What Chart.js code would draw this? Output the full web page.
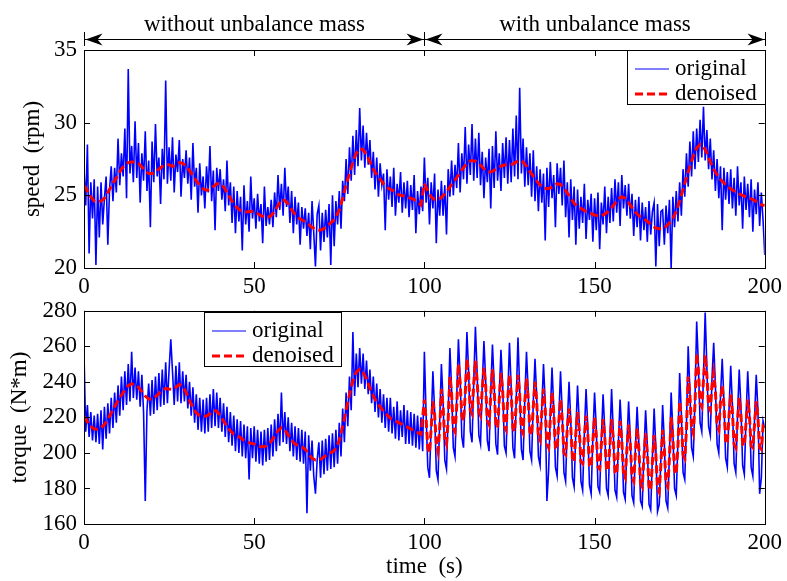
<!DOCTYPE html>
<html>
<head>
<meta charset="utf-8">
<script src="https://cdn.jsdelivr.net/npm/chart.js@4/dist/chart.umd.min.js"></script>
<style>
  html, body { margin: 0; padding: 0; background: #fff; }
  body { width: 787px; height: 581px; position: relative; overflow: hidden; }
  canvas { position: absolute; left: 0; }
  #speedChart { top: 0; }
  #torqueChart { top: 290px; }
</style>
</head>
<body>
<canvas id="speedChart" width="787" height="300"></canvas>
<canvas id="torqueChart" width="787" height="291"></canvas>
<script>
// sections marked with arrows above the upper plot
const sectionBounds = [0, 100, 200];
const sectionLabels = ['without unbalance mass', 'with unbalance mass'];

const xTicks = [0, 50, 100, 150, 200];
const speedTicks = [20, 25, 30, 35];
const torqueTicks = [160, 180, 200, 220, 240, 260, 280];

// speed (rpm), measured, one sample every 0.5 s from 0 to 200 s
const speedOriginal = [
  26.8, 24.3, 28.5, 21.0, 25.9, 23.4, 26.1, 20.2, 25.6, 22.1,
  25.9, 23.0, 24.8, 26.3, 21.6, 25.4, 27.0, 24.6, 26.9, 25.2,
  28.9, 25.7, 27.9, 26.3, 29.6, 24.8, 33.7, 26.5, 28.4, 25.9,
  30.1, 26.2, 28.6, 24.5, 27.9, 26.0, 29.4, 25.3, 27.4, 22.8,
  28.7, 25.9, 29.9, 26.3, 27.6, 24.4, 28.2, 26.1, 32.9, 25.8,
  28.3, 26.0, 29.0, 25.2, 27.8, 26.6, 28.8, 24.9, 27.5, 26.2,
  28.1, 25.8, 27.6, 24.7, 28.6, 25.6, 26.9, 23.8, 27.2, 25.0,
  26.3, 24.1, 27.0, 25.2, 28.4, 24.6, 26.7, 22.6, 26.9, 25.3,
  26.8, 24.7, 26.1, 23.9, 27.4, 24.3, 25.9, 23.1, 25.6, 22.4,
  25.3, 23.2, 24.9, 21.2, 25.7, 23.0, 24.6, 22.5, 26.3, 23.4,
  24.8, 22.7, 25.1, 23.2, 24.4, 21.7, 25.6, 22.9, 24.2, 23.0,
  24.7, 22.8, 25.2, 23.5, 26.4, 24.0, 25.8, 23.6, 26.9, 24.2,
  25.6, 23.1, 25.3, 22.4, 24.9, 23.0, 24.5, 21.6, 24.2, 22.7,
  24.1, 22.2, 23.8, 21.3, 24.6, 22.4, 20.1, 23.7, 24.3, 21.2,
  23.8, 21.8, 24.0, 22.1, 24.4, 20.2, 25.0, 21.5, 24.6, 23.0,
  25.3, 22.7, 26.0, 24.6, 27.5, 25.1, 28.3, 26.0, 29.1, 26.4,
  29.5, 27.0, 31.0, 27.4, 29.8, 26.9, 29.3, 27.1, 28.8, 26.2,
  28.0, 25.4, 27.6, 24.9, 27.2, 25.7, 26.5, 22.6, 26.8, 24.7,
  26.3, 24.2, 26.9, 23.6, 25.8, 24.5, 26.6, 23.8, 25.9, 24.1,
  26.0, 23.5, 25.7, 24.0, 26.4, 22.4, 25.3, 23.7, 25.6, 23.9,
  27.6, 24.5, 26.2, 23.0, 25.9, 24.1, 26.5, 21.7, 25.4, 23.6,
  26.0, 23.6, 25.7, 22.3, 26.8, 24.9, 27.4, 25.0, 27.1, 25.5,
  28.6, 25.2, 27.9, 26.1, 29.7, 25.8, 28.5, 26.4, 29.9, 26.0,
  28.9, 26.2, 29.3, 25.7, 28.0, 24.8, 27.6, 25.9, 28.2, 24.1,
  28.4, 25.5, 29.4, 26.0, 27.9, 25.3, 28.6, 26.2, 29.0, 25.8,
  28.8, 25.9, 29.6, 26.3, 30.5, 26.1, 32.4, 26.5, 28.9, 25.6,
  28.3, 25.7, 27.9, 24.9, 28.1, 24.6, 27.0, 23.9, 26.8, 24.5,
  26.5, 21.9, 26.9, 24.2, 27.3, 24.8, 26.4, 22.8, 27.2, 25.1,
  26.9, 24.3, 27.4, 23.5, 25.9, 22.1, 26.1, 23.3, 25.6, 21.6,
  25.4, 22.7, 24.9, 23.1, 25.8, 22.0, 24.7, 23.3, 25.1, 21.8,
  24.8, 22.6, 25.2, 21.3, 24.5, 23.0, 25.6, 22.4, 24.9, 23.1,
  25.5, 23.2, 26.1, 23.8, 25.9, 22.9, 26.4, 24.1, 25.7, 23.6,
  25.8, 23.4, 25.1, 22.2, 24.7, 22.8, 24.9, 21.9, 24.5, 22.6,
  24.2, 21.8, 24.6, 22.3, 23.9, 24.5, 20.1, 24.4, 21.5, 23.9,
  24.0, 21.6, 24.3, 22.4, 24.7, 20.0, 24.9, 22.8, 25.3, 23.2,
  25.9, 23.6, 26.8, 24.9, 27.9, 25.6, 28.7, 26.3, 29.4, 26.8,
  29.6, 27.3, 30.2, 27.6, 31.1, 27.4, 29.5, 26.8, 28.9, 26.1,
  28.1, 25.3, 27.5, 24.8, 27.0, 22.6, 26.9, 24.7, 26.6, 24.4,
  26.8, 24.1, 26.2, 23.6, 27.0, 24.3, 25.9, 22.7, 26.3, 24.0,
  25.8, 23.5, 26.1, 22.5, 25.4, 23.7, 25.9, 22.9, 25.2, 23.3,
  20.9
];
const speedOriginalStep = 0.5;

// speed (rpm), denoised, one sample per second from 0 to 200 s
const speedDenoised = [
  25.7, 25.3, 24.9, 24.6, 24.55, 24.6, 24.8, 25.2, 25.6, 26.0,
  26.4, 26.8, 27.1, 27.25, 27.3, 27.3, 27.2, 26.95, 26.7, 26.5,
  26.5, 26.6, 26.8, 27.0, 27.1, 27.1, 27.0, 27.1, 27.25, 27.2,
  27.0, 26.7, 26.35, 26.0, 25.7, 25.45, 25.35, 25.4, 25.6, 25.8,
  25.8, 25.6, 25.2, 24.8, 24.4, 24.15, 23.95, 23.9, 23.85, 23.9,
  23.85, 23.75, 23.6, 23.5, 23.5, 23.6, 23.9, 24.3, 24.7, 24.65,
  24.4, 24.0, 23.7, 23.45, 23.3, 23.2, 23.0, 22.8, 22.65, 22.6,
  22.65, 22.8, 23.0, 23.2, 23.5, 24.0, 24.8, 25.7, 26.5, 27.3,
  27.9, 28.2, 28.15, 27.8, 27.3, 26.8, 26.4, 26.1, 25.8, 25.55,
  25.4, 25.3, 25.1, 25.0, 24.95, 24.9, 24.8, 24.7, 24.55, 24.35,
  25.8, 25.3, 24.9, 24.7, 24.7, 24.85, 25.1, 25.4, 25.75, 26.05,
  26.4, 26.75, 27.05, 27.3, 27.4, 27.35, 27.2, 26.95, 26.7, 26.6,
  26.65, 26.8, 26.95, 27.05, 27.1, 27.1, 27.15, 27.3, 27.4, 27.3,
  27.0, 26.65, 26.3, 26.0, 25.7, 25.5, 25.45, 25.5, 25.65, 25.8,
  25.75, 25.5, 25.15, 24.8, 24.45, 24.2, 24.1, 23.95, 23.85, 23.75,
  23.65, 23.6, 23.6, 23.7, 23.9, 24.15, 24.45, 24.75, 24.9, 24.8,
  24.5, 24.15, 23.85, 23.6, 23.45, 23.3, 23.1, 22.9, 22.75, 22.7,
  22.7, 22.85, 23.1, 23.4, 23.9, 24.6, 25.4, 26.2, 27.0, 27.7,
  28.25, 28.5, 28.35, 27.9, 27.3, 26.8, 26.4, 26.1, 25.85, 25.65,
  25.45, 25.3, 25.15, 25.05, 24.95, 24.85, 24.75, 24.65, 24.5, 24.35,
  24.3
];
const speedDenoisedStep = 1;

// torque (N*m), measured, one sample every 0.5 s from 0 to 200 s
const torqueOriginal = [
  256, 212, 227, 209, 223, 207, 221, 206, 222, 205,
  224, 202, 226, 208, 228, 211, 231, 214, 234, 217,
  238, 221, 243, 224, 246, 227, 250, 229, 257, 231,
  248, 230, 246, 226, 244, 223, 173, 224, 239, 221,
  241, 222, 243, 224, 245, 226, 247, 227, 251, 228,
  247, 264, 246, 227, 249, 229, 251, 228, 246, 229,
  244, 225, 240, 221, 237, 217, 233, 213, 231, 212,
  230, 211, 231, 212, 233, 214, 236, 215, 234, 214,
  231, 212, 228, 209, 226, 206, 223, 204, 221, 201,
  219, 200, 218, 198, 216, 197, 215, 185, 214, 197,
  215, 195, 213, 194, 212, 193, 213, 195, 214, 196,
  216, 198, 219, 201, 222, 204, 234, 206, 223, 205,
  220, 201, 217, 198, 215, 196, 214, 195, 213, 194,
  212, 166, 210, 190, 207, 187, 177, 196, 206, 186,
  207, 188, 208, 190, 210, 191, 211, 192, 213, 194,
  217, 198, 225, 206, 234, 215, 243, 224, 268, 232,
  256, 237, 259, 239, 256, 236, 252, 233, 247, 228,
  243, 223, 239, 220, 236, 217, 233, 214, 231, 212,
  231, 211, 226, 208, 229, 207, 224, 209, 227, 205,
  224, 205, 223, 204, 222, 203, 221, 202, 220, 201,
  257, 222, 192, 186, 216,  246, 224, 190, 185, 218,
  250, 229, 196, 191, 222,  259, 236, 203, 198, 231,
  264, 243, 209, 203, 236,  268, 246, 212, 206, 240,
  271, 245, 210, 205, 238,  263, 241, 207, 201, 235,
  261, 239, 205, 199, 233,  258, 238, 204, 200, 232,
  262, 237, 203, 197, 231,  265, 236, 202, 196, 230,
  257, 235, 201, 196, 229,  253, 232, 198, 193, 226,
  250, 228, 173, 190, 222,  248, 226, 192, 187, 220,
  246, 223, 189, 184, 217,  240, 219, 186, 181, 213,
  238, 217, 184, 179, 211,  236, 215, 182, 177, 209,
  234, 214, 181, 178, 208,  233, 213, 180, 176, 207,
  236, 212, 179, 175, 206,  230, 211, 178, 174, 205,
  229, 209, 176, 172, 203,  226, 206, 173, 170, 200,
  224, 204, 171, 168, 198,  225, 203, 167, 171, 197,
  227, 206, 173, 169, 200,  234, 213, 180, 176, 207,
  245, 222, 189, 185, 216,  260, 236, 203, 198, 230,
  274, 250, 217, 212, 244,  279, 248, 215, 210, 242,
  262, 238, 205, 200, 232,  253, 230, 197, 192, 224,
  249, 227, 194, 189, 221,  247, 226, 193, 188, 220,
  246, 225, 192, 187, 219,  244, 224, 177, 186, 218,
  214
];
const torqueOriginalStep = 0.5;

// torque (N*m), denoised: first half one sample per second (0..99 s)
const torqueDenoisedA = [
  220.6, 217.5, 215, 213.5, 213.3, 214, 216, 219, 222.5, 226,
  229.5, 232.5, 235.5, 237.8, 238.9, 238.5, 237, 234.5, 232, 230.3,
  230.2, 231.5, 233.5, 235.5, 236.3, 236, 235.8, 237, 238.5, 237.5,
  234, 229.5, 225.5, 222.5, 221, 220.6, 220.8, 222, 223.9, 223.5,
  221, 218, 215, 212.5, 210.5, 209.7, 208.5, 207, 206, 205.5,
  205, 204.2, 203.5, 203.5, 204.5, 206.5, 209.5, 212.5, 214.2, 213,
  210, 207, 205, 204.2, 203.5, 202, 199.5, 197, 196, 196,
  197, 198.5, 200, 200.5, 202.5, 207, 215, 224, 233, 240.5,
  245.5, 247.1, 245.5, 241.5, 236.5, 232, 228.5, 226, 223.5, 221.5,
  219.5, 218.5, 217.5, 216.5, 215.5, 214.5, 213.5, 212.5, 211.5, 210.5
];
// second half oscillates, one sample every 0.5 s (100..200 s)
const torqueDenoisedB = [
  230, 219, 203, 200, 214,  229, 222, 206, 201, 213,
  236, 226, 208, 205, 219,  243, 233, 214, 212, 226,
  250, 240, 221, 218, 233,  253, 244, 224, 222, 239,
  252, 241, 223, 221, 236,  248, 238, 218, 216, 232,
  247, 236, 216, 214, 230,  245, 235, 215, 213, 231,
  244, 234, 214, 212, 228,  244, 233, 213, 211, 229,
  242, 231, 212, 210, 226,  240, 229, 209, 207, 223,
  236, 225, 205, 203, 219,  234, 223, 203, 202, 218,
  230, 219, 200, 199, 214,  225, 215, 197, 195, 211,
  223, 213, 195, 194, 208,  221, 211, 193, 192, 207,
  220, 210, 192, 191, 205,  219, 209, 191, 190, 204,
  219, 208, 189, 188, 203,  218, 207, 188, 186, 202,
  216, 205, 186, 184, 200,  214, 203, 183, 181, 197,
  211, 200, 181, 179, 195,  210, 199, 180, 178, 194,
  213, 202, 183, 181, 197,  220, 209, 190, 188, 204,
  229, 218, 199, 197, 213,  243, 233, 214, 211, 227,
  256, 247, 228, 226, 241,  255, 244, 226, 224, 238,
  245, 235, 215, 213, 229,  238, 227, 207, 205, 221,
  233, 223, 205, 203, 218,  231, 222, 205, 204, 217,
  230, 221, 204, 203, 216,  229, 220, 203, 202, 215,
  214
];

const serif = "'Liberation Serif', 'Times New Roman', serif";
const blue = '#0000ff';
const red = '#ff0000';

function toPoints(values, step, start = 0) {
  return values.map((v, i) => ({ x: start + i * step, y: v }));
}

// black box with inward ticks on all four sides (MATLAB style)
const boxTicks = {
  id: 'boxTicks',
  afterDatasetsDraw(chart) {
    const { ctx, chartArea: a, scales: { x, y } } = chart;
    const len = 6;
    ctx.save();
    ctx.strokeStyle = '#000';
    ctx.lineWidth = 1;
    ctx.beginPath();
    x.ticks.forEach(t => {
      const px = Math.round(x.getPixelForValue(t.value)) + 0.5;
      ctx.moveTo(px, a.bottom); ctx.lineTo(px, a.bottom - len);
      ctx.moveTo(px, a.top); ctx.lineTo(px, a.top + len);
    });
    y.ticks.forEach(t => {
      const py = Math.round(y.getPixelForValue(t.value)) + 0.5;
      ctx.moveTo(a.left, py); ctx.lineTo(a.left + len, py);
      ctx.moveTo(a.right, py); ctx.lineTo(a.right - len, py);
    });
    ctx.stroke();
    ctx.strokeRect(Math.round(a.left) + 0.5, Math.round(a.top) + 0.5,
      Math.round(a.right - a.left), Math.round(a.bottom - a.top));
    ctx.restore();
  }
};

// legend box drawn inside the plot
const boxLegend = {
  id: 'boxLegend',
  afterDraw(chart, args, opts) {
    const { ctx, chartArea: a } = chart;
    const w = opts.width, h = opts.height;
    const left = opts.align === 'right' ? Math.round(a.right) - w : Math.round(a.left) + opts.offsetX;
    const top = Math.round(a.top) + opts.offsetY;
    ctx.save();
    ctx.fillStyle = '#fff';
    ctx.fillRect(left, top, w, h);
    ctx.strokeStyle = '#000';
    ctx.lineWidth = 1;
    ctx.strokeRect(left + 0.5, top + 0.5, w, h);
    ctx.font = '23px ' + serif;
    ctx.textBaseline = 'middle';
    const entries = chart.data.datasets.slice().sort((p, q) => q.order - p.order);
    entries.forEach((ds, i) => {
      const yy = top + 19 + i * 25;
      ctx.beginPath();
      ctx.strokeStyle = ds.borderColor;
      ctx.lineWidth = ds.order === 1 ? 1 : ds.borderWidth;
      ctx.setLineDash(ds.borderDash || []);
      ctx.moveTo(left + 8, yy);
      ctx.lineTo(left + 42, yy);
      ctx.stroke();
      ctx.setLineDash([]);
      ctx.fillStyle = '#000';
      ctx.fillText(ds.label, left + 48, yy);
    });
    ctx.restore();
  }
};

// arrows and section names above the speed plot
const sectionArrows = {
  id: 'sectionArrows',
  afterDraw(chart) {
    const { ctx, scales: { x } } = chart;
    const yy = 39.5;
    const xs = sectionBounds.map(v => Math.round(x.getPixelForValue(v)) + 0.5);
    const head = (px, dir) => {
      ctx.beginPath();
      ctx.moveTo(px, yy);
      ctx.lineTo(px - dir * 17, yy - 6);
      ctx.lineTo(px - dir * 12, yy);
      ctx.lineTo(px - dir * 17, yy + 6);
      ctx.closePath();
      ctx.fill();
    };
    ctx.save();
    ctx.strokeStyle = '#000';
    ctx.fillStyle = '#000';
    ctx.lineWidth = 1;
    ctx.beginPath();
    ctx.moveTo(xs[0], yy); ctx.lineTo(xs[xs.length - 1], yy);
    xs.forEach(px => { ctx.moveTo(px, 32); ctx.lineTo(px, 46); });
    ctx.stroke();
    for (let i = 0; i < sectionLabels.length; i++) {
      head(xs[i] + 1, -1);
      head(xs[i + 1] - 1, 1);
      ctx.font = '23px ' + serif;
      ctx.textAlign = 'center';
      ctx.textBaseline = 'alphabetic';
      ctx.fillText(sectionLabels[i], (xs[i] + xs[i + 1]) / 2, 31);
    }
    ctx.restore();
  }
};

function makeOptions(cfg) {
  return {
    responsive: false,
    animation: false,
    events: [],
    parsing: false,
    layout: { padding: { left: 0, right: 21, top: cfg.padTop, bottom: 0 } },
    plugins: {
      legend: { display: false },
      tooltip: { enabled: false },
      boxLegend: cfg.legend
    },
    scales: {
      x: {
        type: 'linear',
        min: 0,
        max: 200,
        grid: { display: false, drawTicks: false },
        border: { display: false },
        afterBuildTicks: scale => { scale.ticks = xTicks.map(v => ({ value: v })); },
        afterFit: scale => { scale.height = cfg.xHeight; },
        ticks: { color: '#000', padding: 5, maxRotation: 0, font: { family: serif, size: 23 } },
        title: cfg.xTitle
      },
      y: {
        min: cfg.yMin,
        max: cfg.yMax,
        grid: { display: false, drawTicks: false },
        border: { display: false },
        afterBuildTicks: scale => { scale.ticks = cfg.yTicks.map(v => ({ value: v })); },
        afterFit: scale => { scale.width = 84; },
        ticks: { color: '#000', padding: 7, font: { family: serif, size: 23 } },
        title: {
          display: true,
          text: cfg.yTitle,
          color: '#000',
          font: { family: serif, size: 23 },
          padding: { top: cfg.yTitlePad, bottom: 0 }
        }
      }
    }
  };
}

new Chart(document.getElementById('speedChart'), {
  type: 'line',
  data: {
    datasets: [{
      label: 'original',
      data: toPoints(speedOriginal, speedOriginalStep),
      borderColor: blue,
      borderWidth: 1.6,
      pointRadius: 0,
      order: 1
    }, {
      label: 'denoised',
      data: toPoints(speedDenoised, speedDenoisedStep),
      borderColor: red,
      borderWidth: 3,
      borderDash: [8, 4],
      pointRadius: 0,
      order: 0
    }]
  },
  options: makeOptions({
    padTop: 50,
    xHeight: 32,
    xTitle: { display: false },
    yMin: 20, yMax: 35, yTicks: speedTicks,
    yTitle: 'speed  (rpm)', yTitlePad: 19,
    legend: { align: 'right', offsetX: 0, offsetY: 0, width: 138, height: 54 }
  }),
  plugins: [boxTicks, boxLegend, sectionArrows]
});

new Chart(document.getElementById('torqueChart'), {
  type: 'line',
  data: {
    datasets: [{
      label: 'original',
      data: toPoints(torqueOriginal, torqueOriginalStep),
      borderColor: blue,
      borderWidth: 1.6,
      pointRadius: 0,
      order: 1
    }, {
      label: 'denoised',
      data: toPoints(torqueDenoisedA, 1).concat(toPoints(torqueDenoisedB, 0.5, 100)),
      borderColor: red,
      borderWidth: 3,
      borderDash: [8, 4],
      pointRadius: 0,
      order: 0
    }]
  },
  options: makeOptions({
    padTop: 15,
    xHeight: 57,
    xTitle: {
      display: true,
      text: 'time  (s)',
      color: '#000',
      font: { family: serif, size: 23 },
      padding: { top: 0, bottom: 0 }
    },
    yMin: 160, yMax: 280, yTicks: torqueTicks,
    yTitle: 'torque  (N*m)', yTitlePad: 6,
    legend: { align: 'left', offsetX: 120, offsetY: 1, width: 137, height: 54 }
  }),
  plugins: [boxTicks, boxLegend]
});
</script>
</body>
</html>
